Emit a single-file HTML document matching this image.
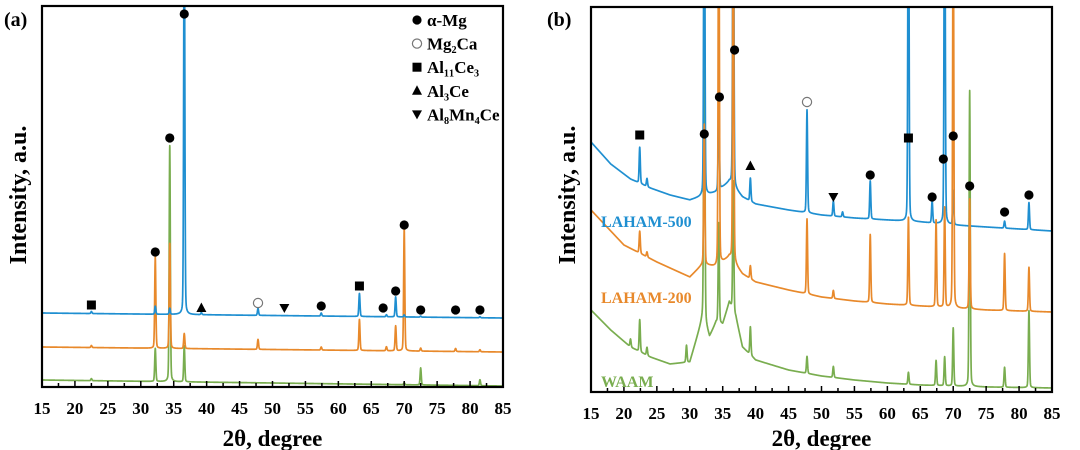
<!DOCTYPE html>
<html><head><meta charset="utf-8">
<style>
html,body{margin:0;padding:0;background:#fff;}
svg{display:block;font-family:"Liberation Serif",serif;font-weight:bold;}
</style></head>
<body>
<svg id="chart" width="1080" height="450" viewBox="0 0 1080 450">
  <defs>
    <clipPath id="clipA"><rect x="42" y="6" width="461" height="381"/></clipPath>
    <clipPath id="clipB"><rect x="591" y="7" width="461" height="385"/></clipPath>
  </defs>
  <text x="4" y="26" font-size="20">(a)</text>
  <text x="547" y="26" font-size="20">(b)</text>
  <g id="panelA"></g>
  <g id="panelB"></g>
</svg>
<script>
// ---------- Data (x in 2θ degrees, y in arbitrary intensity units) ----------
const xTicks = [15,20,25,30,35,40,45,50,55,60,65,70,75,80,85];

// Panel (a)
const aBaseBlue   = [[15,74],[85,69]];
const aBaseOrange = [[15,40],[85,35]];
const aBaseGreen  = [[15,7],[85,1]];
const aPeaksBlue   = [[22.5,2],[32.2,8],[34.4,6],[36.6,420],[39.2,2],[47.8,7],[57.4,3],[63.2,23],[67.3,2],[68.7,20],[70.0,2],[72.5,1],[81.5,1]];
const aPeaksOrange = [[22.5,2],[32.2,91],[34.4,105],[36.6,15],[47.8,10],[57.4,3],[63.2,31],[67.3,4],[68.7,25],[70.0,122],[72.5,3],[77.8,3],[81.5,2]];
const aPeaksGreen  = [[22.5,2],[32.2,33],[34.4,236],[36.6,36],[70.0,2],[72.5,17],[81.5,6]];
const aMarkers = [["sq",22.5,82],["dot",32.2,135],["dot",34.4,249],["dot",36.6,373],["tri",39.2,79],["circ",47.8,84],["itri",51.8,79],["dot",57.4,81],["sq",63.2,101],["dot",66.8,79],["dot",68.7,96],["dot",70.0,162],["dot",72.5,77],["dot",77.8,77],["dot",81.5,77]];

// Panel (b)
const bBaseBlue   = [[15,250],[18,228],[21,213],[24,204],[27,197],[30,192],[32,196],[34,200],[36,210],[38,195],[40,188],[45,182],[50,177],[55,174],[60,172],[65,170],[70,167],[75,165],[80,163],[85,161]];
const bBaseOrange = [[15,182],[20,147],[25,130],[30,115],[32,128],[34,125],[36,135],[38,118],[40,110],[45,102],[50,95],[55,91],[60,88],[65,86],[70,84],[75,82],[80,81],[85,80]];
const bBaseGreen  = [[15,82],[18,62],[21,45],[24,35],[27,28],[30,30],[32,75],[33,55],[34,70],[35,68],[36,90],[37,75],[38,45],[40,32],[45,22],[50,16],[55,12],[60,9],[65,7],[70,6],[75,5],[85,4]];
const bPeaksBlue   = [[22.4,36],[23.5,8],[32.2,420],[34.4,95],[36.6,420],[39.2,23],[47.8,103],[51.8,15],[53.2,5],[57.4,38],[63.2,420],[66.8,22],[68.7,420],[70.0,34],[77.8,7],[81.5,27]];
const bPeaksOrange = [[22.4,22],[23.5,5],[32.2,140],[34.4,420],[36.6,420],[39.2,13],[47.8,75],[51.8,8],[57.4,68],[63.2,88],[67.4,87],[68.7,100],[70.0,420],[72.5,110],[77.8,57],[81.5,44]];
const bPeaksGreen  = [[21.0,8],[22.4,32],[23.5,8],[29.5,17],[32.2,420],[34.4,100],[36.6,130],[39.2,28],[47.8,17],[51.8,11],[63.2,12],[67.4,25],[68.7,29],[70.0,58],[72.5,296],[77.8,20],[81.5,77]];
const bMarkers = [["sq",22.4,257],["dot",32.2,258],["dot",34.5,295],["dot",36.8,342],["tri",39.2,226],["circ",47.8,290],["itri",51.8,195],["dot",57.4,217],["sq",63.2,254],["dot",66.8,195],["dot",68.5,233],["dot",70.0,256],["dot",72.5,206],["dot",77.8,180],["dot",81.5,197]];

const legendItems = [["dot","α-Mg"],["circ","Mg₂Ca"],["sq","Al₁₁Ce₃"],["tri","Al₃Ce"],["itri","Al₈Mn₄Ce"]];
const bLabels = [["LAHAM-500",170,"#1f8fd1"],["LAHAM-200",94,"#e8892b"],["WAAM",10,"#79ad4f"]];

const NS = "http://www.w3.org/2000/svg";
function mk(tag, attrs, parent){const e=document.createElementNS(NS,tag);for(const k in attrs)e.setAttribute(k,attrs[k]);parent.appendChild(e);return e;}

function interp(base,x){
  for(let i=0;i<base.length-1;i++){
    if(x>=base[i][0]&&x<=base[i+1][0]){const t=(x-base[i][0])/(base[i+1][0]-base[i][0]);return base[i][1]+t*(base[i+1][1]-base[i][1]);}
  }
  return base[base.length-1][1];
}
function curve(base,peaks){
  const xs=[];for(let x=15;x<=85.0001;x+=0.03)xs.push(+x.toFixed(3));
  peaks.forEach(p=>xs.push(p[0]));
  xs.sort((a,b)=>a-b);
  return xs.map(x=>{let y=interp(base,x);peaks.forEach(p=>{const d=(x-p[0])/0.085;const l=(x-p[0])/0.12;y+=p[1]*(0.85*Math.exp(-d*d/2)+0.15/(1+l*l));});return [x,y];});
}

function marker(g,type,cx,cy,name){
  let e;
  if(type==="dot"){e=mk("circle",{cx:cx,cy:cy,r:4.6,fill:"#000"},g);}
  else if(type==="circ"){e=mk("circle",{cx:cx,cy:cy,r:4.6,fill:"#fff",stroke:"#777","stroke-width":1.2},g);}
  else if(type==="sq"){e=mk("rect",{x:cx-4.5,y:cy-4.5,width:9,height:9,fill:"#000"},g);}
  else if(type==="tri"){e=mk("polygon",{points:`${cx},${cy-5.5} ${cx-5},${cy+4} ${cx+5},${cy+4}`,fill:"#000"},g);}
  else {e=mk("polygon",{points:`${cx},${cy+5} ${cx-5},${cy-4} ${cx+5},${cy-4}`,fill:"#000"},g);}
  
  
}

function panel(gid, box, clip, series, markers, prefix){
  const g=document.getElementById(gid);
  const sx=x=>box.x0+(x-15)/70*(box.x1-box.x0);
  const sy=v=>box.y1-v;
  const ch=mk("g",{"clip-path":`url(#${clip})`},g);
  
  
  series.forEach(s=>{
    const pts=curve(s.base,s.peaks);
    const d=pts.map((p,i)=>(i?"L":"M")+sx(p[0]).toFixed(2)+","+sy(p[1]).toFixed(2)).join("");
    const path=mk("path",{d:d,fill:"none",stroke:s.color,"stroke-width":1.7,"stroke-linejoin":"round"},ch);
    
    
  });
  markers.forEach((m,i)=>marker(g,m[0],sx(m[1]),sy(m[2]),prefix+'-peak-marker-'+(i+1)));
  const fr=mk("rect",{x:box.x0,y:box.y0,width:box.x1-box.x0,height:box.y1-box.y0,fill:"none",stroke:"#000","stroke-width":2.2},g);
  
  
  for(let t=17.5;t<85;t+=2.5){
    const tk=mk("line",{x1:sx(t),x2:sx(t),y1:box.y1,y2:box.y1-(t%5===0?6:4),stroke:"#000","stroke-width":1.5},g);
    
    
  }
  xTicks.forEach(t=>{
    const tl=mk("text",{x:sx(t),y:box.y1+27,"font-size":17,"text-anchor":"middle"},g);
    tl.textContent=t;
    
    
  });
  const xt=mk("text",{x:(box.x0+box.x1)/2,y:446,"font-size":23,"text-anchor":"middle"},g);
  xt.textContent="2θ, degree";
  
  
  const yx=box.x0-16, yc=195;
  const yt=mk("text",{x:yx,y:yc,"font-size":24,"text-anchor":"middle",transform:`rotate(-90 ${yx} ${yc})`},g);
  yt.textContent="Intensity, a.u.";
  
  
  return {g,sx,sy};
}

const boxA={x0:42,x1:503,y0:6,y1:387};
const boxB={x0:591,x1:1052,y0:7,y1:392};
const C={blue:"#1f8fd1",orange:"#e8892b",green:"#79ad4f"};

const A=panel("panelA",boxA,"clipA",[
  {name:"waam",base:aBaseGreen,peaks:aPeaksGreen,color:C.green},
  {name:"laham-200",base:aBaseOrange,peaks:aPeaksOrange,color:C.orange},
  {name:"laham-500",base:aBaseBlue,peaks:aPeaksBlue,color:C.blue}],aMarkers,"panel-a");

const B=panel("panelB",boxB,"clipB",[
  {name:"waam",base:bBaseGreen,peaks:bPeaksGreen,color:C.green},
  {name:"laham-500",base:bBaseBlue,peaks:bPeaksBlue,color:C.blue},
  {name:"laham-200",base:bBaseOrange,peaks:bPeaksOrange,color:C.orange}],bMarkers,"panel-b");

// Legend (panel a)
const lg=mk("g",{},A.g);


legendItems.forEach((it,i)=>{
  const y=20+i*23.6;
  marker(lg,it[0],417,y,'legend-marker-'+(i+1));
  const t=mk("text",{x:427,y:y+6,"font-size":17},lg);
  t.textContent=it[1];
  
  
});

// Series labels (panel b)
bLabels.forEach(l=>{
  const t=mk("text",{x:601,y:B.sy(l[1])+5,"font-size":16,fill:l[2]},B.g);
  t.textContent=l[0];
  
  
});
</script>
</body></html>
